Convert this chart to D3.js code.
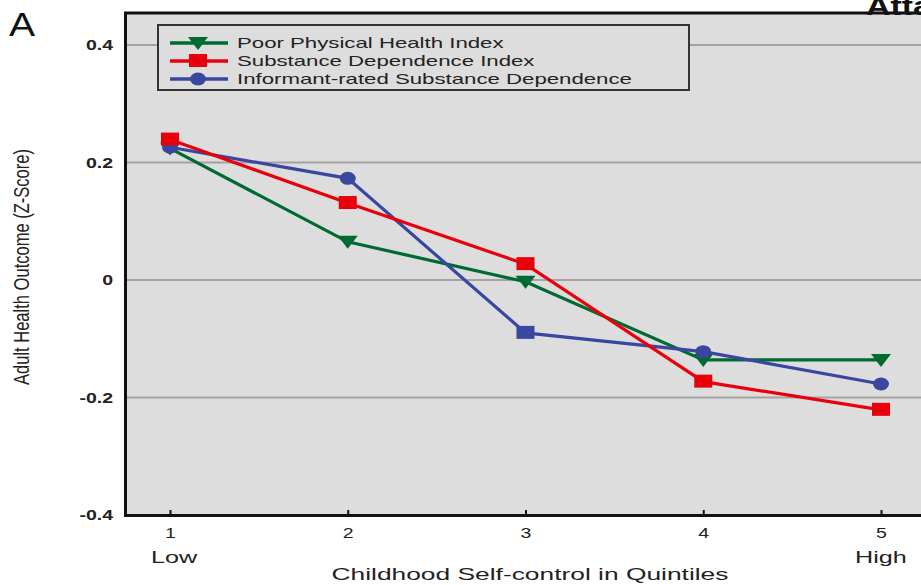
<!DOCTYPE html>
<html>
<head>
<meta charset="utf-8">
<script src="https://cdn.jsdelivr.net/npm/d3@7"></script>
<style>
  body { margin: 0; background: #fff; }
  svg { display: block; font-family: Arial, "Liberation Sans", sans-serif; }
</style>
</head>
<body>
<div class="visHolder"></div>
<script>
const quintiles = [1, 2, 3, 4, 5];
const seriesNames = ["Poor Physical Health Index", "Substance Dependence Index", "Informant-rated Substance Dependence"];
const poorHealth = [0.224, 0.065, -0.003, -0.136, -0.136];
const substance = [0.239, 0.131, 0.027, -0.173, -0.221];
const informant = [0.226, 0.173, -0.090, -0.122, -0.177];
const yTicks = [-0.4, -0.2, 0, 0.2, 0.4];

const width = 921, height = 585;
const stretch = 1.48; // the source figure's text is stretched wide

const svg = d3.select(".visHolder")
  .append("svg")
  .attr("width", width)
  .attr("height", height);

// stretch a text horizontally by the figure's factor
function widen(sel, k) {
  sel.each(function () {
    const w = this.getComputedTextLength();
    d3.select(this).attr("textLength", w * (k || stretch)).attr("lengthAdjust", "spacingAndGlyphs");
  });
}

const xScale = d3.scaleLinear().domain([1, 5]).range([170, 881]);
const yScale = d3.scaleLinear().domain([-0.4, 0.4]).range([515, 45]);

// plot background
svg.append("rect")
  .attr("x", 125).attr("y", 13)
  .attr("width", width - 125).attr("height", 502)
  .style("fill", "#dddddd");

// grid lines
svg.append("g")
  .selectAll("line")
  .data(yTicks.filter(d => d > -0.4))
  .enter().append("line")
  .attr("x1", 125).attr("x2", width)
  .attr("y1", d => yScale(d)).attr("y2", d => yScale(d))
  .style("stroke", "#a3a3a3")
  .style("stroke-width", 2);

// frame
svg.append("path")
  .attr("d", "M" + width + ",13H125.5V515.5H" + width)
  .style("fill", "none")
  .style("stroke", "#111")
  .style("stroke-width", 3);

// x ticks
var xAxis = d3.axisBottom(xScale).tickValues(quintiles).tickSize(-5).tickPadding(12).tickFormat(d3.format("d"));
svg.append("g")
  .attr("id", "x-axis")
  .attr("transform", "translate(0,515)")
  .call(xAxis)
  .call(g => g.select(".domain").remove())
  .call(g => g.selectAll(".tick line").style("stroke", "#111").style("stroke-width", 2))
  .call(g => g.selectAll("text").style("font-size", "15px").style("fill", "#222").call(widen, 1.3));

var yAxis = d3.axisLeft(yScale).tickValues(yTicks).tickSize(0).tickPadding(12)
  .tickFormat(d => d === 0 ? "0" : d3.format(".1f")(d).replace("−", "-"));
svg.append("g")
  .attr("id", "y-axis")
  .attr("transform", "translate(125,0)")
  .call(yAxis)
  .call(g => g.select(".domain").remove())
  .call(g => g.selectAll("text").style("font-size", "15px").style("font-weight", "bold").style("fill", "#222").call(widen, 1.3));

svg.append("text").attr("x", 174).attr("y", 563).attr("text-anchor", "middle")
  .style("font-size", "17px").style("fill", "#222").text("Low").call(widen);
svg.append("text").attr("x", 881).attr("y", 563).attr("text-anchor", "middle")
  .style("font-size", "17px").style("fill", "#222").text("High").call(widen);
svg.append("text").attr("x", 530).attr("y", 580).attr("text-anchor", "middle")
  .style("font-size", "17px").style("fill", "#222").text("Childhood Self-control in Quintiles").call(widen, 1.55);

svg.append("text")
  .attr("transform", "rotate(-90)")
  .attr("x", -267).attr("y", 29)
  .attr("text-anchor", "middle")
  .attr("textLength", 236).attr("lengthAdjust", "spacingAndGlyphs")
  .style("font-size", "22px").style("fill", "#222")
  .text("Adult Health Outcome (Z-Score)");

svg.append("text").attr("x", 9).attr("y", 36)
  .style("font-size", "34px").style("fill", "#111").text("A").call(widen, 1.15);
svg.append("text").attr("x", 866).attr("y", 15)
  .style("font-size", "26px").style("font-weight", "bold").style("fill", "#111").text("Atta").call(widen, 1.3);

const series = [
  { name: seriesNames[0], values: poorHealth, color: "#016a30", marker: "tri" },
  { name: seriesNames[2], values: informant, color: "#3a47a0", marker: "circle" },
  { name: seriesNames[1], values: substance, color: "#e8000b", marker: "square" }
];

function drawMarker(g, type, x, y, color) {
  if (type === "tri") {
    g.append("path")
      .attr("d", "M" + (x - 10) + "," + (y - 6) + "L" + (x + 10) + "," + (y - 6) + "L" + x + "," + (y + 7) + "Z")
      .style("fill", color);
  } else if (type === "square") {
    g.append("rect").attr("x", x - 9).attr("y", y - 7).attr("width", 18).attr("height", 13).style("fill", color);
  } else {
    g.append("ellipse").attr("cx", x).attr("cy", y).attr("rx", 8).attr("ry", 6.5).style("fill", color);
  }
}

const line = d3.line().x((d, i) => xScale(quintiles[i])).y(d => yScale(d));

series.forEach(s => {
  const g = svg.append("g");
  g.append("path")
    .datum(s.values)
    .attr("d", line)
    .style("fill", "none")
    .style("stroke", s.color)
    .style("stroke-width", 3.2);
  s.values.forEach((v, i) => {
    // the source figure shows a square marker on the third informant point
    const m = (s.marker === "circle" && i === 2) ? "square" : s.marker;
    drawMarker(g, m, xScale(quintiles[i]), yScale(v), s.color);
  });
});

// legend
const legend = svg.append("g");
legend.append("rect")
  .attr("x", 158).attr("y", 25).attr("width", 531).attr("height", 65)
  .style("fill", "#dddddd").style("stroke", "#333").style("stroke-width", 2);
const legendItems = [series[0], series[2], series[1]];
legendItems.forEach((s, i) => {
  const y = 43 + i * 18;
  legend.append("line").attr("x1", 170).attr("x2", 228).attr("y1", y).attr("y2", y)
    .style("stroke", s.color).style("stroke-width", 3.5);
  drawMarker(legend, s.marker, 198, y, s.color);
  legend.append("text").attr("x", 237).attr("y", y + 5)
    .style("font-size", "15px").style("fill", "#222").text(s.name).call(widen);
});
</script>
</body>
</html>
